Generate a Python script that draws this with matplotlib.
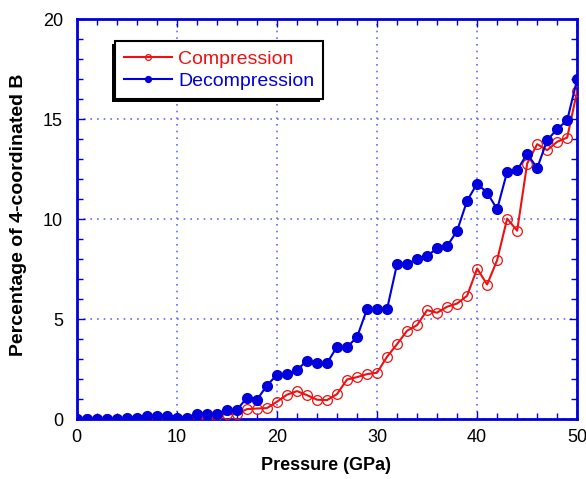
import matplotlib
matplotlib.use('Agg')
import matplotlib.pyplot as plt
from matplotlib.patches import Rectangle
from matplotlib.ticker import MultipleLocator

plt.rcParams['font.family'] = ['Liberation Sans', 'DejaVu Sans']

# pressure steps (GPa)
pressure = list(range(0, 51))

compression = [0, 0, 0, 0, 0, 0, 0, 0, 0, 0,
               0, 0, 0, 0.03, 0.2, 0.25, 0.25, 0.5, 0.53, 0.55,
               0.87, 1.22, 1.4, 1.2, 0.97, 0.95, 1.25, 1.98, 2.1, 2.25,
               2.32, 3.12, 3.75, 4.42, 4.7, 5.45, 5.32, 5.62, 5.78, 6.17,
               7.53, 6.73, 7.95, 10.03, 9.42, 12.78, 13.75, 13.45, 13.87, 14.08,
               16.42]

decompression = [0, 0, 0, 0, 0, 0.08, 0.08, 0.17, 0.17, 0.17,
                 0.08, 0.08, 0.28, 0.28, 0.28, 0.46, 0.46, 1.07, 0.97, 1.68,
                 2.22, 2.25, 2.45, 2.93, 2.83, 2.8, 3.62, 3.6, 4.1, 5.5,
                 5.5, 5.5, 7.75, 7.75, 8.02, 8.15, 8.55, 8.65, 9.42, 10.92,
                 11.78, 11.32, 10.5, 12.37, 12.45, 13.27, 12.55, 13.95, 14.5, 14.95,
                 17.0]

RED = '#ee1111'
BLUE = '#0000dd'

fig = plt.figure(figsize=(5.86, 4.79), dpi=100)
ax = fig.add_axes([0.131, 0.125, 0.854, 0.835])

ax.plot(pressure, compression, color=RED, lw=1.5, marker='o', ms=7,
        mfc='none', mec=RED, mew=0.9, label='Compression', zorder=3)
ax.plot(pressure, decompression, color=BLUE, lw=1.5, marker='o', ms=7,
        mfc=BLUE, mec=BLUE, label='Decompression', zorder=4)

ax.set_xlim(0, 50)
ax.set_ylim(0, 20)
ax.xaxis.set_major_locator(MultipleLocator(10))
ax.xaxis.set_minor_locator(MultipleLocator(2))
ax.yaxis.set_major_locator(MultipleLocator(5))
ax.yaxis.set_minor_locator(MultipleLocator(1))
ax.tick_params(which='both', direction='in', top=True, right=True,
               color=BLUE, labelsize=13, labelcolor='black')
ax.tick_params(which='major', length=6, width=1)
ax.tick_params(which='minor', length=4, width=1)
ax.tick_params(axis='x', which='major', pad=7)
ax.tick_params(axis='y', which='major', pad=10)
for s in ax.spines.values():
    s.set_color(BLUE)
    s.set_linewidth(2)

ax.grid(True, which='major', color='#6a6aff', ls=(0, (1, 3)), lw=1.2)

ax.set_xlabel('Pressure (GPa)', fontsize=13, fontweight='bold')
ax.set_ylabel('Percentage of 4-coordinated B', fontsize=14, fontweight='bold')
ax.xaxis.set_label_coords(0.499, -0.095)
ax.yaxis.set_label_coords(-0.10, 0.51)

leg = ax.legend(loc='upper left', bbox_to_anchor=(0.076, 0.945), borderaxespad=0,
                fancybox=False, framealpha=1, edgecolor='black', fontsize=14,
                handlelength=2.5, handletextpad=0.3, labelspacing=0.25,
                borderpad=0.45, markerscale=0.6)
leg.get_frame().set_linewidth(1.5)
leg.set_zorder(6)
for txt, c in zip(leg.get_texts(), [RED, BLUE]):
    txt.set_color(c)

# shadow toward lower left, behind the legend box
fig.canvas.draw()
bb = leg.get_window_extent()
shadow = Rectangle((bb.x0 - 3, bb.y0 - 3), bb.width, bb.height,
                   transform=None, facecolor='black', edgecolor='none',
                   zorder=5.5, clip_on=False)
ax.add_artist(shadow)

fig.savefig('out.png', dpi=100)
